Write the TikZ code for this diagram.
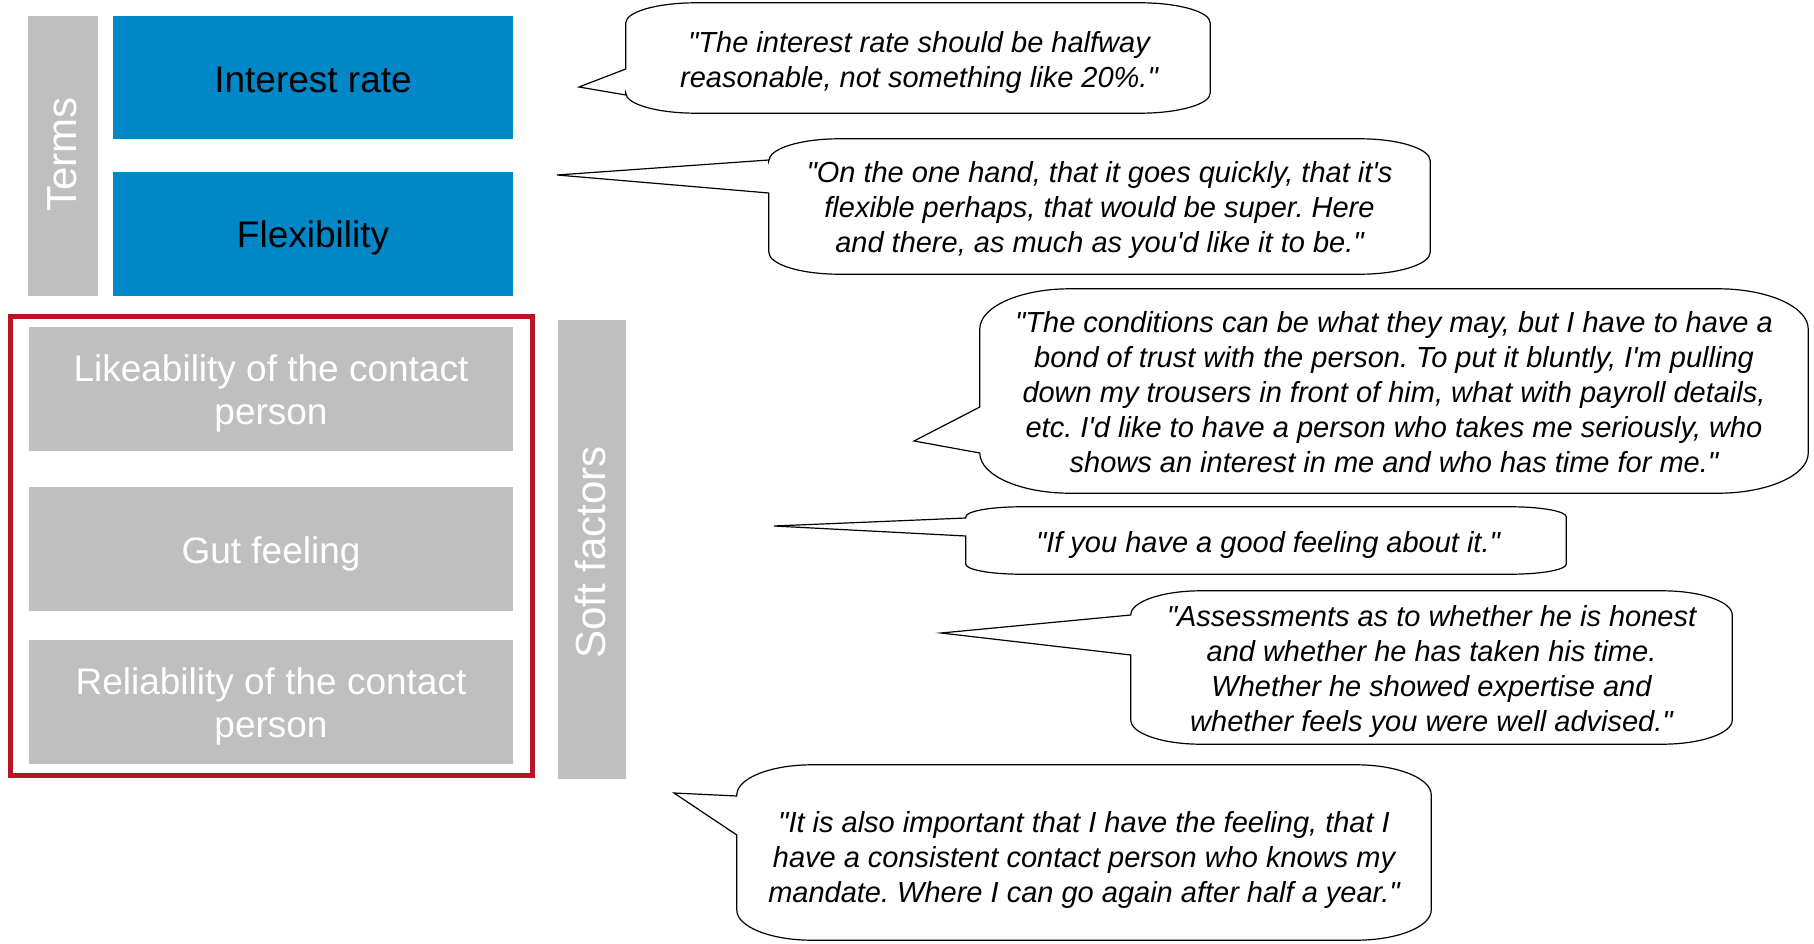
\documentclass[tikz,border=0pt]{standalone}
\usepackage{fontspec}
\setmainfont{Liberation Sans}[Ligatures=TeXOff]
\frenchspacing
\usetikzlibrary{calc}
\definecolor{termblue}{HTML}{0087C8}
\definecolor{panelgray}{HTML}{BFBFBF}
\definecolor{framered}{HTML}{B81224}

% speech bubble round a quote area: #1 node, #2/#3 corner radii,
% #4 tail tip, #5/#6 upper and lower y where the tail leaves the left side
\newcommand\quotebubble[6]{%
  \draw[bubbleline] let \p1=(#1.north west), \p2=(#1.south east) in
    (\x1,\y1-#3pt) .. controls (\x1,\y1-0.45*#3pt) and (\x1+0.45*#2pt,\y1) .. (\x1+#2pt,\y1)
    -- (\x2-#2pt,\y1) .. controls (\x2-0.45*#2pt,\y1) and (\x2,\y1-0.45*#3pt) .. (\x2,\y1-#3pt)
    -- (\x2,\y2+#3pt) .. controls (\x2,\y2+0.45*#3pt) and (\x2-0.45*#2pt,\y2) .. (\x2-#2pt,\y2)
    -- (\x1+#2pt,\y2) .. controls (\x1+0.45*#2pt,\y2) and (\x1,\y2+0.45*#3pt) .. (\x1,\y2+#3pt)
    -- (#1.west |- 0,#6) -- (#4) -- (#1.west |- 0,#5) -- cycle;}

\begin{document}
\begin{tikzpicture}[x=1pt,y=-1pt,
  bluebox/.style={fill=termblue, inner sep=0pt},
  graybox/.style={fill=panelgray, inner sep=0pt},
  boxtext/.style={inner sep=0pt, align=center, font=\fontsize{37}{43}\selectfont},
  sidebar/.style={fill=panelgray, inner sep=0pt},
  sidelabel/.style={text=white, rotate=90, inner sep=0pt,
    font=\fontsize{42}{48}\selectfont},
  quotearea/.style={inner sep=0pt},
  quote/.style={inner sep=0pt, align=center,
    font=\fontsize{29}{35}\selectfont\itshape},
  bubbleline/.style={draw=black, line width=1.2pt, line join=miter}
]
\useasboundingbox (0,0) rectangle (1814,944);

% terms
\node[sidebar, minimum width=70pt, minimum height=279.5pt] (termsbar) at (63,155.75) {};
\node[sidelabel] (termslabel) at ([xshift=-1pt,yshift=1pt]termsbar.center) {Terms};
\node[bluebox, minimum width=400pt, minimum height=123.5pt] (interest) at (313,77.75) {};
\node[boxtext, text=black] (interesttext) at ([yshift=-2pt]interest.center) {Interest rate};
\node[bluebox, minimum width=400pt, minimum height=123.5pt] (flex) at (313,233.75) {};
\node[boxtext, text=black] (flextext) at ([yshift=-4pt]flex.center) {Flexibility};

% soft factors
\draw[draw=framered, line width=5pt] (10,316) rectangle (532.5,775);
\node[graybox, minimum width=484pt, minimum height=124pt] (like) at (271,389) {};
\node[boxtext, text=white] (liketext) at ([yshift=-4pt]like.center) {Likeability of the contact\\person};
\node[graybox, minimum width=484pt, minimum height=124pt] (gut) at (271,549) {};
\node[boxtext, text=white] (guttext) at ([yshift=-5pt]gut.center) {Gut feeling};
\node[graybox, minimum width=484pt, minimum height=124pt] (reliab) at (271,702) {};
\node[boxtext, text=white] (reliabtext) at ([yshift=-4pt]reliab.center) {Reliability of the contact\\person};
\node[sidebar, minimum width=68pt, minimum height=459pt] (softbar) at (592,549.5) {};
\node[sidelabel] (softlabel) at ([xshift=-1pt,yshift=-3pt]softbar.center) {Soft factors};

% quote areas
\node[quotearea, minimum width=584pt, minimum height=110pt] (q1) at (918,58) {};
\node[quotearea, minimum width=661pt, minimum height=135pt] (q2) at (1099.5,206.5) {};
\node[quotearea, minimum width=828pt, minimum height=204pt] (q3) at (1394,391) {};
\node[quotearea, minimum width=600pt, minimum height=67pt] (q4) at (1266,540.5) {};
\node[quotearea, minimum width=601pt, minimum height=153pt] (q5) at (1431.5,667.5) {};
\node[quotearea, minimum width=694pt, minimum height=175pt] (q6) at (1084,852.5) {};

% quote texts
\node[quote] (q1text) at ([xshift=1pt,yshift=-5pt]q1.center)
  {"The interest rate should be halfway\\reasonable, not something like 20\%."};
\node[quote] (q2text) at ([yshift=-4pt]q2.center)
  {"On the one hand, that it goes quickly, that it's\\flexible perhaps, that would be super. Here\\and there, as much as you'd like it to be."};
\node[quote] (q3text) at ([yshift=-1pt]q3.center)
  {"The conditions can be what they may, but I have to have a\\bond of trust with the person. To put it bluntly, I'm pulling\\down my trousers in front of him, what with payroll details,\\etc. I'd like to have a person who takes me seriously, who\\shows an interest in me and who has time for me."};
\node[quote] (q4text) at ([xshift=2pt,yshift=-4pt]q4.center)
  {"If you have a good feeling about it."};
\node[quote] (q5text) at ([yshift=-4pt]q5.center)
  {"Assessments as to whether he is honest\\and whether he has taken his time.\\Whether he showed expertise and\\whether feels you were well advised."};
\node[quote] (q6text) at ([yshift=-7pt]q6.center)
  {"It is also important that I have the feeling, that I\\have a consistent contact person who knows my\\mandate. Where I can go again after half a year."};

% tail tips
\coordinate (t1) at (579,87);
\coordinate (t2) at (557,175);
\coordinate (t3) at (914,441);
\coordinate (t4) at (774,526);
\coordinate (t5) at (941,633);
\coordinate (t6) at (674,793);

\quotebubble{q1}{70}{20}{t1}{69}{95}
\quotebubble{q2}{70}{22}{t2}{160}{193}
\quotebubble{q3}{90}{40}{t3}{407}{453}
\quotebubble{q4}{55}{10}{t4}{518}{536}
\quotebubble{q5}{70}{24}{t5}{615}{655}
\quotebubble{q6}{75}{30}{t6}{796}{835}
\end{tikzpicture}
\end{document}
